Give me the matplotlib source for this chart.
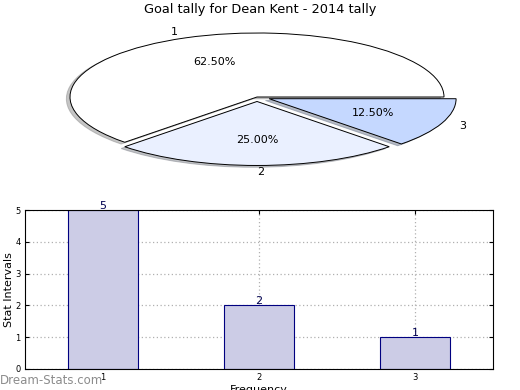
import numpy as np
import matplotlib
matplotlib.use('Agg')
import matplotlib.pyplot as plt

# data
pie_labels = ['1', '2', '3']
pie_values = [5, 2, 1]
pie_colors = ['#ffffff', '#eaf0ff', '#c5d8ff']
pie_explode = [0, 0.07, 0.07]

bar_x = [1, 2, 3]
bar_values = [5, 2, 1]
bar_text = ['5', '2', '1']

fig = plt.figure(figsize=(5.2, 3.9), dpi=100)

# pie on top (squashed, not equal aspect)
ax1 = fig.add_axes([23.25/520, 213/390, 467.5/520, 160/390])
ax1.pie(pie_values, labels=pie_labels, colors=pie_colors, explode=pie_explode,
        autopct='%.2f%%', shadow=dict(ox=-0.014, oy=-0.02, shade=0.45),
        startangle=0, counterclock=True,
        labeldistance=1.1, pctdistance=0.6,
        wedgeprops=dict(edgecolor='black', linewidth=0.7),
        textprops=dict(fontsize=8))
ax1.set_aspect('auto')
ax1.set_xlim(-1.25, 1.25); ax1.set_ylim(-1.25, 1.25)
ax1.axis('off')
fig.text(0.5, 0.975, 'Goal tally for Dean Kent - 2014 tally', ha='center', va='center', fontsize=9.3)

# bars below
ax2 = fig.add_axes([25/520, 21/390, 468/520, 159/390])
ax2.bar(bar_x, bar_values, width=0.45, color='#ccccE6', edgecolor='#000080', linewidth=0.8, zorder=2)
for x, v, t in zip(bar_x, bar_values, bar_text):
    ax2.text(x, v - 0.02, t, ha='center', va='bottom', fontsize=8, color='#000050')
ax2.set_xlim(0.5, 3.5); ax2.set_ylim(0, 5)
ax2.set_xticks(bar_x); ax2.set_yticks(range(0, 6))
ax2.tick_params(labelsize=6, direction='in', top=True, right=True, length=3, pad=3)
ax2.grid(True, linestyle=(0, (1, 2)), color='#b0b0b0', linewidth=0.9, zorder=0)
ax2.set_axisbelow(True)
ax2.set_ylabel('Stat Intervals', fontsize=8)
ax2.yaxis.set_label_coords(-0.024, 0.5)
ax2.set_xlabel('Frequency', fontsize=8, labelpad=2)

fig.text(0.0, 0.025, 'Dream-Stats.com', ha='left', va='center', fontsize=8.5, color='#8c8c8c')

plt.savefig('out.png', dpi=100)
